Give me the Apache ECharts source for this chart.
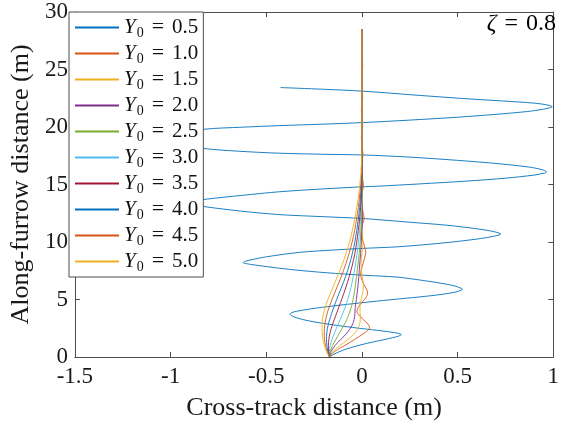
<!DOCTYPE html>
<html><head><meta charset="utf-8">
<script src="https://cdn.jsdelivr.net/npm/echarts@6/dist/echarts.min.js"></script>
<style>html,body{margin:0;padding:0;background:#fff}#c{width:562px;height:426px}</style>
</head><body><div id="c"></div>
<script>
const legendNames = ['Y0 = 0.5','Y0 = 1.0','Y0 = 1.5','Y0 = 2.0','Y0 = 2.5','Y0 = 3.0','Y0 = 3.5','Y0 = 4.0','Y0 = 4.5','Y0 = 5.0'];
const lineColors = ['#0072BD','#D95319','#EDB120','#7E2F8E','#77AC30','#4DBEEE','#A2142F','#0072BD','#D95319','#EDB120'];
const xTickValues = [-1.5,-1,-0.5,0,0.5,1];
const yTickValues = [0,5,10,15,20,25,30];

// [cross-track x, along-furrow y]
const traj05 = [[-0.17,0],[-0.15,0.2],[-0.12,0.45],[-0.08,0.7],[-0.03,0.95],[0.03,1.2],[0.09,1.42],[0.14,1.6],[0.18,1.76],[0.2,1.87],[0.205,1.95],
[0.2,2.02],[0.17,2.12],[0.1,2.28],[0.0,2.47],[-0.1,2.68],[-0.2,2.92],[-0.28,3.15],[-0.34,3.4],[-0.368,3.6],[-0.375,3.72],
[-0.37,3.84],[-0.34,3.98],[-0.27,4.18],[-0.15,4.44],[0.0,4.72],[0.15,4.98],[0.3,5.22],[0.42,5.45],[0.49,5.65],[0.518,5.8],[0.525,5.88],
[0.518,5.98],[0.48,6.2],[0.4,6.45],[0.3,6.7],[0.184,6.95],[0.0,7.12],[-0.18,7.32],[-0.35,7.57],[-0.47,7.8],[-0.56,8.0],[-0.605,8.12],[-0.62,8.2],
[-0.61,8.32],[-0.58,8.45],[-0.5,8.71],[-0.327,9.1],[-0.15,9.3],[0.0,9.44],[0.184,9.58],[0.35,9.8],[0.5,10.05],[0.62,10.3],[0.69,10.5],[0.725,10.69],
[0.69,10.9],[0.6,11.15],[0.45,11.45],[0.25,11.72],[0.08,11.95],[0.0,12.05],[-0.2,12.2],[-0.43,12.38],[-0.63,12.68],[-0.82,13.07],[-0.88,13.25],[-0.9,13.4],
[-0.88,13.55],[-0.82,13.71],[-0.63,14.05],[-0.43,14.37],[-0.2,14.62],[0.0,14.8],[0.08,14.85],[0.3,15.05],[0.55,15.3],[0.75,15.55],[0.9,15.82],[0.955,16.0],[0.965,16.1],
[0.95,16.25],[0.88,16.5],[0.72,16.8],[0.5,17.1],[0.25,17.38],[0.0,17.57],[-0.2,17.63],[-0.43,17.72],[-0.65,17.9],[-0.82,18.12],[-0.93,18.45],[-0.98,18.95],
[-0.95,19.4],[-0.82,19.81],[-0.63,19.98],[-0.43,20.12],[-0.2,20.25],[0.0,20.38],[0.25,20.6],[0.5,20.85],[0.7,21.1],[0.866,21.35],[0.95,21.55],[0.985,21.68],[0.995,21.75],
[0.985,21.85],[0.94,22.0],[0.866,22.12],[0.7,22.3],[0.525,22.48],[0.3,22.75],[0.0,23.12],[-0.2,23.28],[-0.425,23.43]];

const traj10 = [[-0.17,0],[-0.14,0.5],[-0.09,1.0],[-0.04,1.5],[0.005,2.0],[0.03,2.3],[0.04,2.55],[0.032,2.85],[0.008,3.25],[-0.016,3.65],[-0.026,3.95],[-0.02,4.3],[0.0,4.75],[0.022,5.2],[0.03,5.55],[0.024,5.9],[0.008,6.4],[-0.004,6.9],[-0.006,7.3],[0.002,7.9],[0.014,8.6],[0.02,9.1],[0.014,9.6],[0.002,10.3],[-0.004,10.9],[0.002,11.5],[0.012,12.0],[0.006,12.6],[-0.003,13.4],[0.0,14.2],[0.008,14.9],[0.002,15.6],[-0.003,16.3],[0.0,17.0],[0.006,17.6],[0.0,18.4],[-0.003,19.2],[0.004,20.0],[0.0,20.8],[-0.003,21.6],[0.004,22.6],[0.0,23.4],[-0.002,24.3],[0.004,25.3],[0.0,26.2],[0.002,27.2],[0.0,28.5]];
const traj15 = [[-0.17,0],[-0.15,0.5],[-0.115,1.0],[-0.075,1.5],[-0.042,2.0],[-0.02,2.5],[-0.01,3.0],[-0.008,3.5],[-0.01,4.0],[-0.01,4.5],[-0.004,5.0],[0.004,5.6],[0.008,6.2],[0.004,6.8],[-0.003,7.5],[-0.004,8.2],[0.0,9.0],[0.005,9.8],[0.003,10.6],[0.0,11.5],[0.0,13.0],[0.002,15.0],[0.0,17.0],[0.0,28.5]];
const traj20 = [[-0.17,0],[-0.16,0.5],[-0.14,1.0],[-0.112,1.5],[-0.083,2.0],[-0.06,2.5],[-0.045,3.0],[-0.038,3.5],[-0.036,4.0],[-0.034,4.5],[-0.029,5.0],[-0.022,6.0],[-0.016,7.0],[-0.012,8.0],[-0.007,9.0],[-0.003,10.0],[0.0,11.0],[0.003,12.0],[0.002,13.0],[0.0,14.0],[0.0,28.5]];
const traj25 = [[-0.17,0],[-0.165,0.5],[-0.153,1.0],[-0.137,1.5],[-0.12,2.0],[-0.103,2.5],[-0.087,3.0],[-0.073,3.5],[-0.062,4.0],[-0.053,4.5],[-0.046,5.0],[-0.036,6.0],[-0.028,7.0],[-0.021,8.0],[-0.014,9.0],[-0.009,10.0],[-0.005,11.0],[-0.002,12.0],[0.0,13.0],[0.001,14.0],[0.0,15.0],[0.0,28.5]];
const traj30 = [[-0.17,0],[-0.17,0.5],[-0.165,1.0],[-0.157,1.5],[-0.146,2.0],[-0.133,2.5],[-0.12,3.0],[-0.107,3.5],[-0.095,4.0],[-0.084,4.5],[-0.074,5.0],[-0.058,6.0],[-0.045,7.0],[-0.034,8.0],[-0.025,9.0],[-0.018,10.0],[-0.012,11.0],[-0.007,12.0],[-0.003,13.0],[0.0,14.0],[0.0,28.5]];
const traj35 = [[-0.17,0],[-0.174,0.5],[-0.175,1.0],[-0.173,1.5],[-0.168,2.0],[-0.16,2.5],[-0.15,3.0],[-0.139,3.5],[-0.128,4.0],[-0.117,4.5],[-0.106,5.0],[-0.085,6.0],[-0.066,7.0],[-0.05,8.0],[-0.037,9.0],[-0.027,10.0],[-0.019,11.0],[-0.012,12.0],[-0.007,13.0],[-0.003,14.0],[0.0,15.0],[0.0,28.5]];
const traj40 = [[-0.17,0],[-0.178,0.5],[-0.183,1.0],[-0.185,1.5],[-0.184,2.0],[-0.18,2.5],[-0.173,3.0],[-0.164,3.5],[-0.154,4.0],[-0.143,4.5],[-0.132,5.0],[-0.108,6.0],[-0.085,7.0],[-0.066,8.0],[-0.05,9.0],[-0.037,10.0],[-0.027,11.0],[-0.019,12.0],[-0.012,13.0],[-0.007,14.0],[-0.003,15.0],[0.0,16.0],[0.0,28.5]];
const traj45 = [[-0.17,0],[-0.182,0.5],[-0.19,1.0],[-0.195,1.5],[-0.197,2.0],[-0.196,2.5],[-0.192,3.0],[-0.186,3.5],[-0.178,4.0],[-0.167,4.5],[-0.156,5.0],[-0.132,6.0],[-0.108,7.0],[-0.086,8.0],[-0.067,9.0],[-0.051,10.0],[-0.038,11.0],[-0.028,12.0],[-0.019,13.0],[-0.012,14.0],[-0.006,15.0],[-0.002,16.0],[0.0,17.0],[0.0,28.5]];
const traj50 = [[-0.17,0],[-0.186,0.5],[-0.196,1.0],[-0.203,1.5],[-0.207,2.0],[-0.209,2.5],[-0.208,3.0],[-0.204,3.5],[-0.197,4.0],[-0.188,4.5],[-0.178,5.0],[-0.153,6.0],[-0.128,7.0],[-0.104,8.0],[-0.083,9.0],[-0.065,10.0],[-0.05,11.0],[-0.038,12.0],[-0.027,13.0],[-0.018,14.0],[-0.011,15.0],[-0.005,16.0],[-0.002,17.0],[0.0,18.0],[0.0,28.5]];

const trajectories = [traj05,traj10,traj15,traj20,traj25,traj30,traj35,traj40,traj45,traj50];

const serif = 'Liberation Serif';
const axisColor = '#4d4d4d';
const tickStyle = {inside:true, length:5, lineStyle:{color:axisColor, width:1}};
function xAx(pos, showLabel){
  return {type:'value', position:pos, min:xTickValues[0], max:xTickValues[xTickValues.length-1], interval:0.5,
    axisLine:{show:true, onZero:false, lineStyle:{color:axisColor, width:1}},
    axisTick:tickStyle, splitLine:{show:false},
    axisLabel:{show:showLabel, fontFamily:serif, fontSize:23, color:'#1a1a1a', margin:8},
    name: showLabel ? 'Cross-track distance (m)' : '', nameLocation:'middle', nameGap:38,
    nameTextStyle:{fontFamily:serif, fontSize:26, color:'#1a1a1a'}};
}
function yAx(pos, showLabel){
  return {type:'value', position:pos, min:yTickValues[0], max:yTickValues[yTickValues.length-1], interval:5,
    axisLine:{show:true, onZero:false, lineStyle:{color:axisColor, width:1}},
    axisTick:tickStyle, splitLine:{show:false},
    axisLabel:{show:showLabel, fontFamily:serif, fontSize:23, color:'#1a1a1a', margin:7},
    name: showLabel ? 'Along-furrow distance (m)' : '', nameLocation:'middle', nameGap:31, nameRotate:90,
    nameTextStyle:{fontFamily:serif, fontSize:26, color:'#1a1a1a'}};
}
const richLbl = {
  y:{fontFamily:serif, fontStyle:'italic', fontSize:21, lineHeight:26, color:'#111'},
  s:{fontFamily:serif, fontSize:14, lineHeight:15, padding:[11,0,0,1], color:'#111'},
  e:{fontFamily:serif, fontSize:22, lineHeight:26, padding:[0,8,0,8], color:'#111'},
  n:{fontFamily:serif, fontSize:21, lineHeight:26, color:'#111'}
};
const chart = echarts.init(document.getElementById('c'), null, {renderer:'canvas'});
chart.setOption({
  animation:false,
  backgroundColor:'#fff',
  grid:{left:69, right:4, top:12, bottom:69, containLabel:false},
  xAxis:[xAx('bottom', true), xAx('top', false)],
  yAxis:[yAx('left', true), yAx('right', false)],
  legend:{orient:'vertical', left:69, top:12, padding:[3,5,3,5], itemGap:1, itemWidth:44, itemHeight:2,
    itemStyle:{opacity:0},
    backgroundColor:'#fff', borderColor:axisColor, borderWidth:1, borderRadius:0,
    data:legendNames,
    formatter: function(name){ const v = name.split('= ')[1]; return '{y|Y}{s|0}{e|=}{n|' + v + '}'; },
    textStyle:{rich:richLbl}},
  graphic:[{type:'text', right:6, top:12, z:100,
    style:{text:'{z|ζ}{e|=}{n|0.8}', rich:{
      z:{fontFamily:serif, fontStyle:'italic', fontSize:24, color:'#111'},
      e:{fontFamily:serif, fontSize:24, padding:[0,8,0,8], color:'#111'},
      n:{fontFamily:serif, fontSize:24, color:'#111'}}}}],
  series: trajectories.map((d,i)=>({
    name:legendNames[i], type:'line', data:d, xAxisIndex:0, yAxisIndex:0,
    symbol:'none', showSymbol:false, smooth:0.3, clip:true,
    lineStyle:{color:lineColors[i], width:0.9}, itemStyle:{color:lineColors[i]}
  }))
});
</script></body></html>
